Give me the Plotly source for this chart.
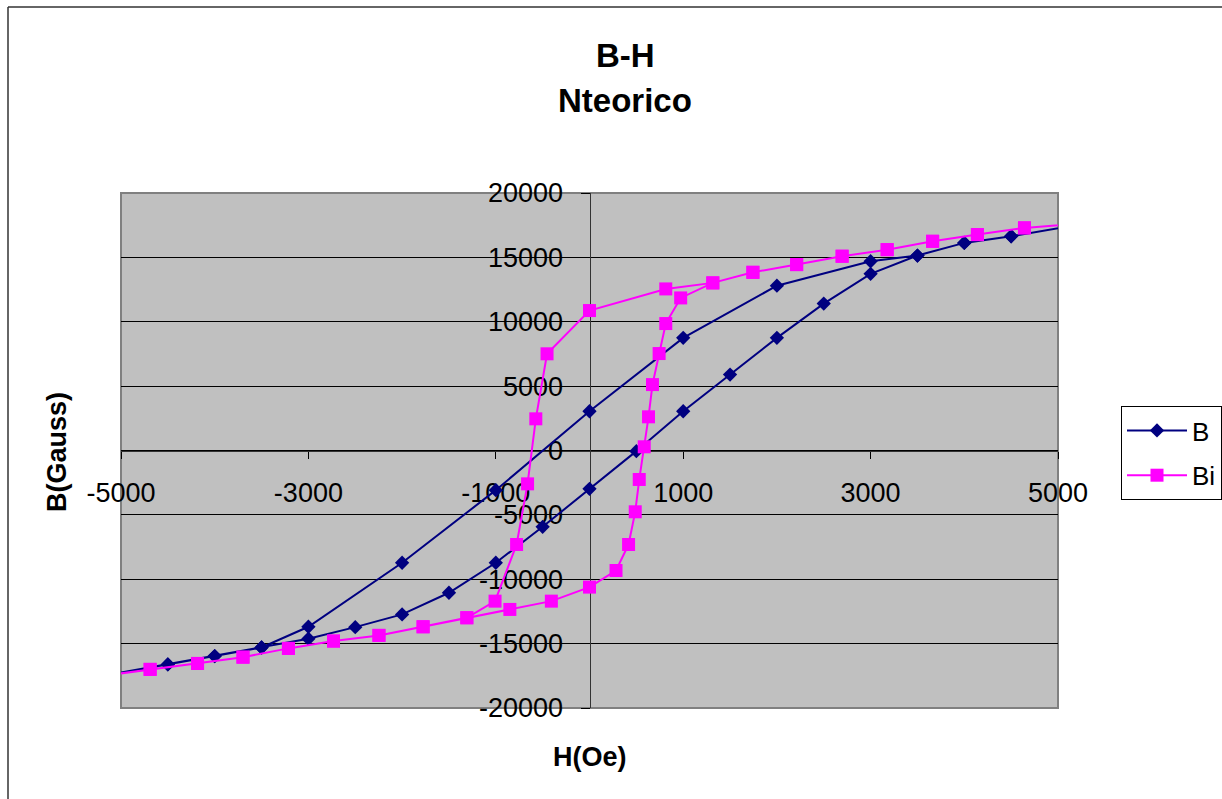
import plotly.graph_objects as go

# Hysteresis loop, series "B" (descending branch then ascending branch)
H_B = [5500, 4500, 4000, 3500, 3000, 2000, 1000, 0, -1000, -2000, -3000, -3500,
       -4000, -4500, -5500,
       -4500, -4000, -3500, -3000, -2500, -2000, -1500, -1000, -500, 0, 500,
       1000, 1500, 2000, 2500, 3000, 3500, 4000, 4500, 5500]
B_B = [17900, 16640, 16125, 15140, 14700, 12800, 8750, 3050, -3080, -8720, -13690, -15300,
       -15970, -16615, -17900,
       -16615, -15970, -15300, -14620, -13720, -12730, -11050, -8720, -5925, -2975, -50,
       3050, 5900, 8750, 11410, 13720, 15140, 16125, 16640, 17900]

# Hysteresis loop, series "Bi"
H_Bi = [5500, 4642, 4140, 3662, 3177, 2696, 2211, 1744, 1316, 814, 0, -453, -573,
        -661, -778, -1008, -1309, -1776, -2247, -2732, -3213, -3698, -4183, -4689, -5500,
        -4689, -4183, -3698, -3213, -2732, -2247, -1776, -1309, -850, -407, 0, 283,
        417, 488, 531, 584, 630, 672, 743, 814, 973, 1316, 1744, 2211, 2696, 3177,
        3662, 4140, 4642, 5500]
B_Bi = [17800, 17290, 16770, 16250, 15600, 15090, 14440, 13840, 13020, 12550, 10870, 7510, 2460,
        -2590, -7300, -11700, -12990, -13690, -14360, -14800, -15370, -16050, -16540, -17000, -17800,
        -17000, -16540, -16050, -15370, -14800, -14360, -13690, -12990, -12345, -11700, -10610, -9320,
        -7300, -4760, -2250, 287, 2616, 5120, 7530, 9860, 11850, 13020, 13840, 14440, 15090, 15600,
        16250, 16770, 17290, 17800]

x_ticks = [-5000, -3000, -1000, 1000, 3000, 5000]
y_ticks = [-20000, -15000, -10000, -5000, 0, 5000, 10000, 15000, 20000]

FONT = "Liberation Sans, Arial, sans-serif"

fig = go.Figure()
fig.add_trace(go.Scatter(
    x=H_B, y=B_B, mode="lines+markers", name="B", legendgroup="g1",
    line=dict(color="#000080", width=2),
    marker=dict(symbol="diamond", size=11, color="#000080"),
))
fig.add_trace(go.Scatter(
    x=H_Bi, y=B_Bi, mode="lines+markers", name="Bi", legendgroup="g2",
    line=dict(color="#FF00FF", width=2),
    marker=dict(symbol="square", size=13, color="#FF00FF"),
))

L, R, T, B = 121, 164, 193, 91
W, HGT = 1222, 799
pw, ph = W - L - R, HGT - T - B


def px_x(x):
    return (x - L) / pw


def px_y(y):
    return (HGT - B - y) / ph


fig.update_layout(
    width=W, height=HGT,
    margin=dict(l=L, r=R, t=T, b=B, pad=0, autoexpand=False),
    paper_bgcolor="white",
    plot_bgcolor="#C0C0C0",
    font=dict(family=FONT, color="black"),
    showlegend=True,
    legend=dict(
        x=px_x(1121), y=px_y(406), xanchor="left", yanchor="top",
        bordercolor="black", borderwidth=1, bgcolor="white",
        font=dict(size=26, family=FONT), itemwidth=60,
        entrywidth=120, entrywidthmode="pixels",
        tracegroupgap=8,
    ),
    xaxis=dict(
        range=[-5000, 5000], tickvals=x_ticks, ticktext=[str(v) for v in x_ticks],
        ticks="outside", ticklen=7, tickcolor="black", tickwidth=1,
        showgrid=False, zeroline=False, showline=True, linecolor="#333333", linewidth=1,
        anchor="free", position=0.5, tickfont=dict(size=27, family=FONT),
        ticklabelstandoff=11, layer="below traces", automargin=False,
    ),
    yaxis=dict(
        range=[-20000, 20000], tickvals=y_ticks, ticktext=[str(v) for v in y_ticks],
        ticks="outside", ticklen=9, tickcolor="black", tickwidth=1,
        showgrid=True, gridcolor="black", gridwidth=1,
        zeroline=False, showline=True, linecolor="#333333", linewidth=1,
        anchor="free", position=0.5, tickfont=dict(size=27, family=FONT),
        ticklabelstandoff=12, layer="below traces", automargin=False,
    ),
    shapes=[
        # plot area frame
        dict(type="rect", xref="paper", yref="paper", x0=0, x1=1, y0=0, y1=1,
             line=dict(color="#808080", width=2), layer="between"),
        # chart area frame
        dict(type="line", xref="paper", yref="paper",
             x0=px_x(8), x1=px_x(8), y0=px_y(7), y1=px_y(820),
             line=dict(color="#333333", width=1.5)),
        dict(type="line", xref="paper", yref="paper",
             x0=px_x(8), x1=px_x(1240), y0=px_y(7), y1=px_y(7),
             line=dict(color="#333333", width=1.5)),
    ],
    annotations=[
        dict(text="<b>B-H</b>", xref="paper", yref="paper", x=px_x(625), y=px_y(55),
             xanchor="center", yanchor="middle", showarrow=False,
             font=dict(size=33, family=FONT)),
        dict(text="<b>Nteorico</b>", xref="paper", yref="paper", x=px_x(625), y=px_y(100),
             xanchor="center", yanchor="middle", showarrow=False,
             font=dict(size=33, family=FONT)),
        dict(text="<b>H(Oe)</b>", xref="paper", yref="paper", x=px_x(590), y=px_y(757),
             xanchor="center", yanchor="middle", showarrow=False,
             font=dict(size=27, family=FONT)),
        dict(text="<b>B(Gauss)</b>", xref="paper", yref="paper", x=px_x(57), y=px_y(452),
             xanchor="center", yanchor="middle", showarrow=False, textangle=-90,
             font=dict(size=27, family=FONT)),
    ],
)

fig.write_html("out.html")
